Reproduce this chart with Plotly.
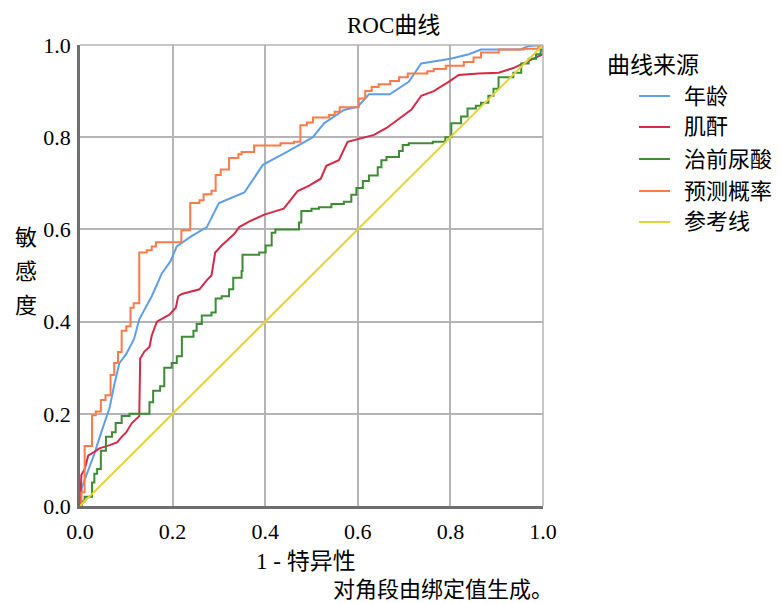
import plotly.graph_objects as go

# ---- data ----
age_x = [0, 0.004, 0.015, 0.031, 0.047, 0.064, 0.074, 0.085, 0.10, 0.117, 0.128, 0.155, 0.177, 0.195, 0.209, 0.24, 0.274, 0.30, 0.355, 0.395, 0.45, 0.503, 0.527, 0.57, 0.60, 0.624, 0.669, 0.71, 0.737, 0.80, 0.84, 0.866, 0.95, 0.97, 1.0]
age_y = [0, 0.04, 0.07, 0.113, 0.163, 0.213, 0.263, 0.31, 0.33, 0.363, 0.405, 0.455, 0.505, 0.53, 0.563, 0.585, 0.605, 0.657, 0.68, 0.74, 0.77, 0.80, 0.83, 0.859, 0.866, 0.893, 0.893, 0.92, 0.96, 0.97, 0.98, 0.99, 0.99, 0.998, 1.0]

cre_x = [0, 0.003, 0.01, 0.018, 0.031, 0.042, 0.064, 0.08, 0.09, 0.10, 0.112, 0.128, 0.13, 0.139, 0.15, 0.155, 0.166, 0.193, 0.207, 0.212, 0.22, 0.258, 0.274, 0.284, 0.292, 0.306, 0.333, 0.344, 0.365, 0.398, 0.44, 0.47, 0.495, 0.52, 0.532, 0.559, 0.578, 0.602, 0.635, 0.662, 0.689, 0.716, 0.737, 0.764, 0.796, 0.818, 0.861, 0.904, 0.936, 0.958, 0.98, 1.0, 1.0]
cre_y = [0, 0.0675, 0.08, 0.11, 0.1175, 0.125, 0.132, 0.138, 0.15, 0.16, 0.18, 0.195, 0.32, 0.335, 0.345, 0.37, 0.40, 0.415, 0.43, 0.455, 0.46, 0.47, 0.49, 0.50, 0.55, 0.565, 0.59, 0.605, 0.617, 0.632, 0.645, 0.683, 0.695, 0.71, 0.738, 0.75, 0.79, 0.797, 0.805, 0.82, 0.84, 0.86, 0.89, 0.90, 0.92, 0.935, 0.938, 0.94, 0.95, 0.96, 0.97, 0.98, 0.99]

ua_x = [0, 0.004, 0.01, 0.026, 0.031, 0.037, 0.045, 0.056, 0.069, 0.077, 0.09, 0.107, 0.139, 0.15, 0.158, 0.173, 0.182, 0.198, 0.209, 0.22, 0.245, 0.252, 0.263, 0.284, 0.293, 0.306, 0.322, 0.331, 0.349, 0.351, 0.387, 0.401, 0.414, 0.422, 0.468, 0.473, 0.478, 0.50, 0.516, 0.543, 0.57, 0.586, 0.597, 0.611, 0.624, 0.643, 0.651, 0.662, 0.689, 0.697, 0.71, 0.762, 0.789, 0.802, 0.823, 0.837, 0.855, 0.866, 0.882, 0.893, 0.904, 0.936, 0.953, 0.969, 0.985, 0.995, 1.0]
ua_y = [0, 0.01, 0.02, 0.051, 0.07, 0.08, 0.12, 0.15, 0.16, 0.18, 0.195, 0.20, 0.20, 0.225, 0.25, 0.26, 0.30, 0.31, 0.325, 0.367, 0.38, 0.395, 0.413, 0.42, 0.45, 0.455, 0.47, 0.495, 0.51, 0.545, 0.55, 0.565, 0.593, 0.60, 0.60, 0.615, 0.64, 0.645, 0.648, 0.655, 0.66, 0.675, 0.69, 0.705, 0.717, 0.735, 0.75, 0.757, 0.77, 0.783, 0.787, 0.79, 0.80, 0.83, 0.845, 0.862, 0.868, 0.875, 0.89, 0.905, 0.93, 0.94, 0.96, 0.97, 0.98, 0.99, 1.0]

prob_x = [0, 0.003, 0.01, 0.026, 0.034, 0.045, 0.055, 0.066, 0.074, 0.082, 0.09, 0.10, 0.109, 0.116, 0.128, 0.144, 0.155, 0.164, 0.219, 0.238, 0.258, 0.267, 0.284, 0.293, 0.304, 0.322, 0.342, 0.349, 0.376, 0.433, 0.462, 0.476, 0.49, 0.503, 0.538, 0.55, 0.561, 0.602, 0.616, 0.63, 0.645, 0.67, 0.689, 0.708, 0.75, 0.764, 0.79, 0.829, 0.85, 0.866, 0.904, 0.958, 0.99, 1.0]
prob_y = [0, 0.03, 0.13, 0.197, 0.205, 0.23, 0.24, 0.284, 0.31, 0.334, 0.38, 0.39, 0.43, 0.44, 0.55, 0.555, 0.563, 0.572, 0.598, 0.657, 0.663, 0.676, 0.684, 0.718, 0.73, 0.755, 0.763, 0.768, 0.782, 0.787, 0.79, 0.826, 0.832, 0.843, 0.848, 0.855, 0.865, 0.884, 0.90, 0.909, 0.915, 0.922, 0.93, 0.938, 0.943, 0.948, 0.955, 0.963, 0.973, 0.984, 0.99, 0.992, 0.998, 1.0]

ref_x = [0, 1]
ref_y = [0, 1]

tick_vals = [0, 0.2, 0.4, 0.6, 0.8, 1.0]
tick_text = ["0.0", "0.2", "0.4", "0.6", "0.8", "1.0"]

names = ["年龄", "肌酐", "治前尿酸", "预测概率", "参考线"]
colors = ["#5f9ee8", "#d42a45", "#3c8c34", "#fb7a48", "#e3d43c"]

FONT = "Times New Roman, Liberation Serif, Noto Sans CJK SC, serif"

fig = go.Figure()
series = [(age_x, age_y, "linear"), (cre_x, cre_y, "linear"), (ua_x, ua_y, "hv"),
          (prob_x, prob_y, "hv"), (ref_x, ref_y, "linear")]
for i, (xs, ys, shape) in enumerate(series):
    fig.add_trace(go.Scatter(x=xs, y=ys, mode="lines", name=names[i],
                             showlegend=False,
                             line=dict(color=colors[i], width=2, shape=shape)))

# page has an 8px body margin: figure origin is at (8, 8) in the screenshot
OFF = 8
W, H = 781 - OFF, 603 - OFF
L, R, T, B = 80, 543, 45, 506   # plot area in screenshot pixels

def px_x(p):
    return (p - L) / (R - L)

def px_y(p):
    return (B - p) / (B - T)

axis_common = dict(range=[0, 1], tickvals=tick_vals, ticktext=tick_text,
                   showgrid=True, gridcolor="#b4b4b4", gridwidth=1.5,
                   zeroline=False, showline=True, linecolor="#6e6e6e", linewidth=2.5,
                   ticks="", tickfont=dict(family=FONT, size=22, color="#000000"),
                   fixedrange=True, automargin=False)

fig.update_layout(
    width=W, height=H,
    margin=dict(l=L - OFF, r=W - (R - OFF), t=T - OFF, b=H - (B - OFF)),
    paper_bgcolor="white", plot_bgcolor="white",
    font=dict(family=FONT, color="#000000"),
    xaxis=dict(**axis_common, ticklabelstandoff=4),
    yaxis=dict(**axis_common, ticklabelstandoff=2),
    showlegend=False,
)

# plot boundary (top/right) in grid colour
fig.add_shape(type="line", xref="paper", yref="paper", x0=0, x1=1, y0=1, y1=1,
              line=dict(color="#b4b4b4", width=1.5))
fig.add_shape(type="line", xref="paper", yref="paper", x0=1, x1=1, y0=0, y1=1,
              line=dict(color="#b4b4b4", width=1.5))

# manual legend ("曲线来源")
legend_rows = [96, 127, 159, 191, 222]
for name, col, yy in zip(names, colors, legend_rows):
    fig.add_shape(type="line", xref="paper", yref="paper",
                  x0=px_x(639), x1=px_x(670), y0=px_y(yy), y1=px_y(yy),
                  line=dict(color=col, width=2))
    fig.add_annotation(text=name, x=px_x(682), y=px_y(yy), xref="paper", yref="paper",
                       xanchor="left", yanchor="middle", showarrow=False,
                       font=dict(family=FONT, size=22, color="#000000"))

ann = [
    dict(text="ROC曲线", x=px_x(393), y=px_y(25), size=23),
    dict(text="曲线来源", x=px_x(653), y=px_y(65), size=23),
    dict(text="1 - 特异性", x=px_x(306), y=px_y(561), size=23),
    dict(text="对角段由绑定值生成。", x=px_x(443), y=px_y(589), size=22),
    dict(text="敏", x=px_x(26), y=px_y(237), size=22),
    dict(text="感", x=px_x(26), y=px_y(271), size=22),
    dict(text="度", x=px_x(26), y=px_y(305), size=22),
]
for a in ann:
    fig.add_annotation(text=a["text"], x=a["x"], y=a["y"], xref="paper", yref="paper",
                       xanchor="center", yanchor="middle", showarrow=False,
                       font=dict(family=FONT, size=a["size"], color="#000000"))

fig.write_html("out.html")
